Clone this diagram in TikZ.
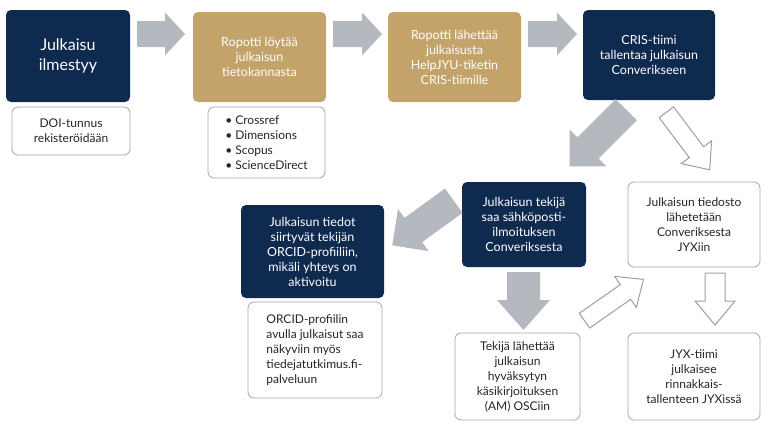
\documentclass[tikz,border=0pt]{standalone}
\usepackage{fontspec}
\setmainfont{Lato}
\begin{document}
\begin{tikzpicture}[x=1pt,y=-1pt,
  dark/.style={draw=none,fill=navy,rounded corners=5pt,text=white,align=center,inner sep=2pt,font=\fontsize{12.5}{15}\selectfont},
  tan/.style={dark,fill=tanc},
  wbox/.style={draw=gray!70,fill=white,rounded corners=6pt,line width=0.8pt,align=center,inner sep=2pt,font=\fontsize{12}{15}\selectfont,text=black!85},
  garr/.style={fill=arrg,draw=none},
  warr/.style={fill=white,draw=gray!75,line width=1pt}]
\definecolor{navy}{HTML}{0F2A4F}
\definecolor{tanc}{HTML}{C4A36B}
\definecolor{arrg}{HTML}{B4B9C0}
\useasboundingbox (0,0) rectangle (768,432);
\newcommand{\barrow}[8]{%
 \begin{scope}[shift={(#1,#2)},rotate=#3]
 \path[#8] (-#4/2,-#5/2) -- (#4/2-#7,-#5/2) -- (#4/2-#7,-#6/2) -- (#4/2,0) -- (#4/2-#7,#6/2) -- (#4/2-#7,#5/2) -- (-#4/2,#5/2) -- cycle;
 \end{scope}}
% boxes
\node[dark,minimum width=124,minimum height=92,font=\fontsize{16}{20}\selectfont] (b1) at (68,56) {Julkaisu\\ilmestyy};
\node[wbox,minimum width=118,minimum height=48] (s1) at (71,131) {DOI-tunnus\\rekisteröidään};
\node[tan,minimum width=133,minimum height=90] (b2) at (259.5,57) {Ropotti löytää\\julkaisun\\tietokannasta};
\node[wbox,minimum width=117,minimum height=71,align=left] (s2) at (266.5,142.5) {\textbullet\ Crossref\\\textbullet\ Dimensions\\\textbullet\ Scopus\\\textbullet\ ScienceDirect};
\node[tan,minimum width=133,minimum height=90] (b3) at (454.5,57) {Ropotti lähettää\\julkaisusta\\HelpJYU-tiketin\\CRIS-tiimille};
\node[dark,minimum width=132,minimum height=90] (b4) at (649,55) {CRIS-tiimi\\tallentaa julkaisun\\Converikseen};
\node[dark,minimum width=124,minimum height=85] (b5) at (524,224.5) {Julkaisun tekijä\\saa sähköposti-\\ilmoituksen\\Converiksesta};
\node[wbox,minimum width=132,minimum height=85] (b6) at (694,224.5) {Julkaisun tiedosto\\lähetetään\\Converiksesta\\JYXiin};
\node[dark,minimum width=143,minimum height=93] (b7) at (312.5,251.5) {Julkaisun tiedot\\siirtyvät tekijän\\ORCID-profiiliin,\\mikäli yhteys on\\aktivoitu};
\node[wbox,minimum width=134,minimum height=96,align=left] (s7) at (315,350) {ORCID-profiilin\\avulla julkaisut saa\\näkyviin myös\\tiedejatutkimus.fi-\\palveluun};
\node[wbox,minimum width=125,minimum height=87] (b8) at (517.5,376.5) {Tekijä lähettää\\julkaisun\\hyväksytyn\\käsikirjoituksen\\(AM) OSCiin};
\node[wbox,minimum width=132,minimum height=87] (b9) at (694,376.5) {JYX-tiimi\\julkaisee\\rinnakkais-\\tallenteen JYXissä};
% arrows
\barrow{161}{34}{0}{48}{26}{43}{20}{garr}
\barrow{357.5}{34}{0}{49}{26}{43}{20}{garr}
\barrow{552.5}{34}{0}{49}{26}{43}{20}{garr}
\barrow{598}{138}{225}{80}{30}{52}{26}{garr}
\barrow{688}{141}{-53}{72}{18}{38}{22}{warr}
\barrow{423}{223}{216}{76}{30}{52}{26}{garr}
\barrow{523.5}{301}{-90}{58}{33}{53}{30}{garr}
\barrow{614}{300}{35}{72}{18}{38}{22}{warr}
\barrow{715}{299}{-90}{52}{20}{40}{24}{warr}
\end{tikzpicture}
\end{document}
